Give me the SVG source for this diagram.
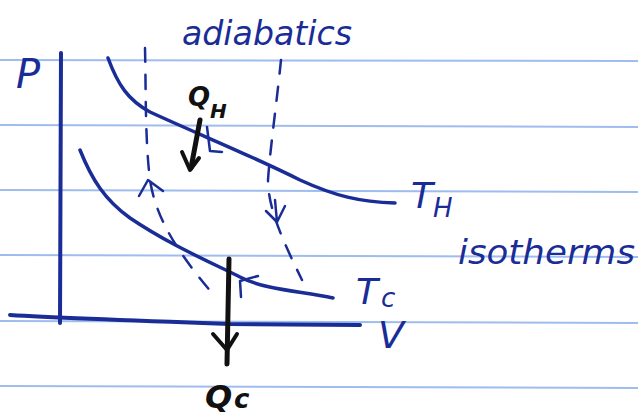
<svg xmlns="http://www.w3.org/2000/svg" width="638" height="419" viewBox="0 0 638 419">
<style>
.rule{stroke:#9fbcee;stroke-width:2;fill:none}
.pen{stroke:#1a2d96;fill:none;stroke-linecap:round;stroke-linejoin:round}
.ink{stroke:#111;fill:none;stroke-linecap:round;stroke-linejoin:round}
.hand{font-family:"DejaVu Sans","Liberation Sans",sans-serif;font-style:italic;fill:#1a2d96}
.black{font-family:"DejaVu Sans","Liberation Sans",sans-serif;font-style:italic;font-weight:bold;fill:#111}
</style>
<rect width="638" height="419" fill="#fff"/>
<g id="paper-lines">
<line class="rule" x1="0" y1="60" x2="638" y2="61"/>
<line class="rule" x1="0" y1="125" x2="638" y2="127"/>
<line class="rule" x1="0" y1="190" x2="638" y2="192"/>
<line class="rule" x1="0" y1="255" x2="638" y2="257"/>
<line class="rule" x1="0" y1="321" x2="638" y2="323"/>
<line class="rule" x1="0" y1="386" x2="638" y2="388"/>
</g>
<g id="axes">
<path class="pen" stroke-width="4" d="M61,53 L60,323"/>
<path class="pen" stroke-width="4" d="M10,315 Q60,318 230,324 L360,325"/>
<text class="hand" x="16" y="88" font-size="40" font-style="normal">P</text>
<text class="hand" x="378" y="348" font-size="38" font-style="normal">V</text>
</g>
<g id="isotherm-hot">
<path class="pen" stroke-width="3.5" d="M108,58 C118,85 128,100 150,112 C200,135 250,155 300,180 C335,196 360,202 395,203"/>
<path class="pen" stroke-width="2.5" d="M207,127 L210,151 L222,152"/>
<text class="hand" x="411" y="208" font-size="36" font-style="normal">T</text>
<text class="hand" x="433" y="217" font-size="26" font-style="normal">H</text>
</g>
<g id="isotherm-cold">
<path class="pen" stroke-width="3.5" d="M80,150 C92,180 105,200 130,218 C170,245 210,262 240,277 C265,290 300,291 333,298"/>
<path class="pen" stroke-width="2.5" d="M258,276 L240,281 L241,297"/>
<text class="hand" x="356" y="304" font-size="36" font-style="normal">T</text>
<text class="hand" x="381" y="307" font-size="26" font-style="normal">c</text>
</g>
<g id="adiabatics">
<path class="pen" stroke-width="2.5" stroke-dasharray="14 13" d="M145,48 C146,90 145,140 150,180 C156,220 180,255 212,293"/>
<path class="pen" stroke-width="2.5" stroke-dasharray="14 13" d="M281,60 C277,100 270,150 268,180 C268,210 285,245 302,280"/>
<path class="pen" stroke-width="2.5" d="M139,196 L148,180 L163,191"/>
<path class="pen" stroke-width="2.5" d="M275,200 L277,222 M266,211 L277,222 L285,206"/>
<text class="hand" x="182" y="45" font-size="34" textLength="170" lengthAdjust="spacingAndGlyphs">adiabatics</text>
<text class="hand" x="458" y="264" font-size="34" textLength="177" lengthAdjust="spacingAndGlyphs">isotherms</text>
</g>
<g id="heat-in">
<path class="ink" stroke-width="5" d="M200,120 L191,168"/>
<path class="ink" stroke-width="4" d="M182,152 L190,170 L199,158"/>
<text class="black" x="188" y="106" font-size="26">Q</text>
<text class="black" x="210" y="118" font-size="20">H</text>
</g>
<g id="heat-out">
<path class="ink" stroke-width="5" d="M229,259 L227,364"/>
<path class="ink" stroke-width="4" d="M213,334 L227,350 L237,334"/>
<text class="black" x="205" y="408" font-size="32">Q</text>
<text class="black" x="234" y="408" font-size="26">c</text>
</g>
</svg>
